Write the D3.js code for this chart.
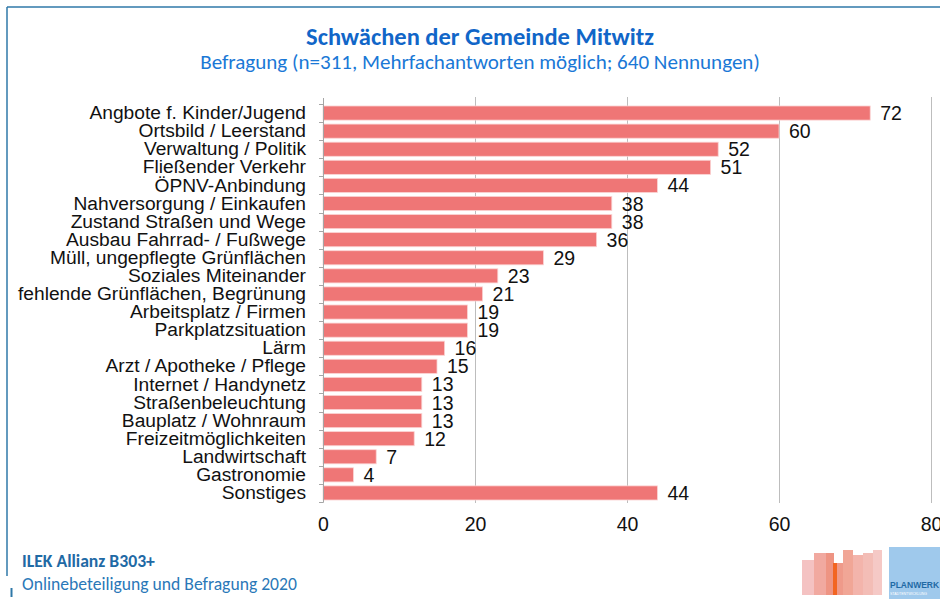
<!DOCTYPE html>
<html><head><meta charset="utf-8">
<script src="https://cdn.jsdelivr.net/npm/d3@7/dist/d3.min.js"></script>
<style>body{margin:0;background:#fff}svg{display:block}</style>
</head><body>
<script>
const categories = ["Angbote f. Kinder/Jugend","Ortsbild / Leerstand","Verwaltung / Politik","Fließender Verkehr","ÖPNV-Anbindung","Nahversorgung / Einkaufen","Zustand Straßen und Wege","Ausbau Fahrrad- / Fußwege","Müll, ungepflegte Grünflächen","Soziales Miteinander","fehlende Grünflächen, Begrünung","Arbeitsplatz / Firmen","Parkplatzsituation","Lärm","Arzt / Apotheke / Pflege","Internet / Handynetz","Straßenbeleuchtung","Bauplatz / Wohnraum","Freizeitmöglichkeiten","Landwirtschaft","Gastronomie","Sonstiges"];
const values = [72,60,52,51,44,38,38,36,29,23,21,19,19,16,15,13,13,13,12,7,4,44];
const xTicks = [0,20,40,60,80];
const title = "Schwächen der Gemeinde Mitwitz";
const subtitle = "Befragung (n=311, Mehrfachantworten möglich; 640 Nennungen)";
const footer1 = "ILEK Allianz B303+";
const footer2 = "Onlinebeteiligung und Befragung 2020";

const W=940,H=599;
const svg=d3.select("body").append("svg").attr("width",W).attr("height",H);

// fit a text to a target width by adjusting font-size
function fit(sel, target){
  const node=sel.node();
  const fs=parseFloat(sel.style("font-size"));
  const w=node.getComputedTextLength();
  if(w>0) sel.style("font-size",(fs*target/w).toFixed(2)+"px");
  return sel;
}

// frame lines
svg.append("line").attr("x1",7).attr("x2",W).attr("y1",7).attr("y2",7).attr("stroke","#2f78a8").attr("stroke-width",1.5);
svg.append("line").attr("x1",7).attr("x2",7).attr("y1",7).attr("y2",576).attr("stroke","#2f78a8").attr("stroke-width",1.5);
svg.append("line").attr("x1",11.5).attr("x2",11.5).attr("y1",588).attr("y2",597).attr("stroke","#2f78a8").attr("stroke-width",2);

const calib = "Carlito, Calibri, 'Open Sans', Lato, sans-serif";
fit(svg.append("text").attr("x",480).attr("y",45).attr("text-anchor","middle")
  .style("font-family",calib).style("font-weight","bold").style("font-size","20px").attr("fill","#1166c8").text(title),348);
fit(svg.append("text").attr("x",480).attr("y",69).attr("text-anchor","middle")
  .style("font-family",calib).style("font-size","17.5px").attr("fill","#1a78d6").text(subtitle),560);

const x=d3.scaleLinear().domain([0,80]).range([323,931]);
const y=d3.scaleBand().domain(categories).range([104,502]).paddingInner(0.22).paddingOuter(0.11);

// gridlines
svg.append("g").selectAll("line").data(xTicks.filter(d=>d>0)).join("line")
  .attr("x1",d=>x(d)+0.5).attr("x2",d=>x(d)+0.5).attr("y1",97).attr("y2",503)
  .attr("stroke","#bdbdbd").attr("stroke-width",1);

// bars
svg.append("g").selectAll("rect").data(values).join("rect")
  .attr("x",x(0)).attr("y",(d,i)=>y(categories[i]))
  .attr("width",d=>x(d)-x(0)).attr("height",y.bandwidth())
  .attr("fill","#ef7676").attr("stroke","#fbd3d3").attr("stroke-width",0.8);

// value labels
svg.append("g").selectAll("text").data(values).join("text")
  .attr("x",d=>x(d)+10).attr("y",(d,i)=>y(categories[i])+y.bandwidth()/2)
  .attr("dy","0.36em").style("font-family","Liberation Sans, Arial, sans-serif").style("font-size","19.5px")
  .attr("fill","#111").text(d=>d);

// y axis
const yAxis=d3.axisLeft(d3.scaleBand().domain(categories).range([104,502])).tickSize(0).tickPadding(17);
const gy=svg.append("g").attr("transform","translate(323,0)").call(yAxis);
gy.select(".domain").remove();
gy.selectAll("text").style("font-family","Liberation Sans, Arial, sans-serif").style("font-size","19.2px").attr("fill","#111");
// axis line and band boundary ticks
svg.append("line").attr("x1",323.5).attr("x2",323.5).attr("y1",98).attr("y2",502.5).attr("stroke","#a6a6a6");
const bounds=d3.range(categories.length+1).map(i=>104+i*(502-104)/categories.length);
svg.append("g").selectAll("line").data(bounds).join("line")
  .attr("x1",319).attr("x2",323.5).attr("y1",d=>Math.round(d)+0.5).attr("y2",d=>Math.round(d)+0.5)
  .attr("stroke","#a6a6a6");

// x axis labels
const xAxis=d3.axisBottom(x).tickValues(xTicks).tickSize(0).tickPadding(14);
const gx=svg.append("g").attr("transform","translate(0,503)").call(xAxis);
gx.select(".domain").remove();
gx.selectAll("text").style("font-family","Liberation Sans, Arial, sans-serif").style("font-size","19.5px").attr("fill","#111");

// footer
fit(svg.append("text").attr("x",22).attr("y",567).style("font-family",calib).style("font-weight","bold").style("font-size","15px").attr("fill","#1f6aa5").text(footer1),133);
fit(svg.append("text").attr("x",22).attr("y",590).style("font-family",calib).style("font-size","15px").attr("fill","#2a78b8").text(footer2),275);

// logo (decorative)
const logo=svg.append("g");
const bld=[[802,560,12,"#f4c2c2"],[814,553,12,"#f1a9a0"],[826,553,8,"#ee9483"],[833,563,4,"#f26522"],[837,563,6,"#ef9a8a"],[843,550,10,"#f1a696"],[853,555,10,"#f3b4ab"],[863,553,10,"#f3bdb6"],[873,550,9,"#f5c9c6"]];
logo.selectAll("rect").data(bld).join("rect").attr("x",d=>d[0]).attr("y",d=>d[1]).attr("width",d=>d[2]).attr("height",d=>595-d[1]).attr("fill",d=>d[3]);
logo.append("rect").attr("x",889).attr("y",547).attr("width",51).attr("height",52).attr("fill","#9fc9ec");
logo.append("text").attr("x",890).attr("y",588).style("font-family","Liberation Sans, Arial, sans-serif").style("font-weight","bold").style("font-size","8.5px").attr("fill","#1f6aa5").text("PLANWERK");
logo.append("text").attr("x",890).attr("y",595).style("font-family","Liberation Sans, Arial, sans-serif").style("font-size","3.5px").attr("fill","#ffffff").text("STADTENTWICKLUNG");
</script>
</body></html>
